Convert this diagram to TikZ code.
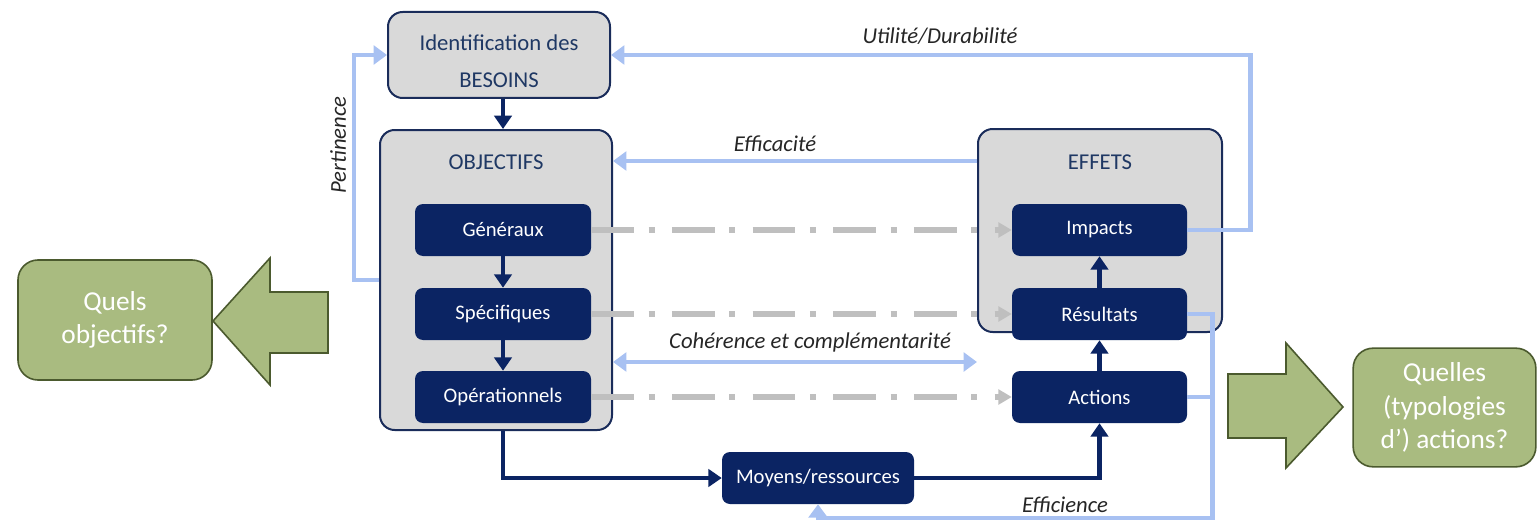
\documentclass[tikz,border=0pt]{standalone}
\usepackage{fontspec}
\setmainfont{Carlito}
\usetikzlibrary{arrows.meta,calc}
\definecolor{navy}{HTML}{0B2463}
\definecolor{navyb}{HTML}{1A2C5A}
\definecolor{boxgray}{HTML}{D9D9D9}
\definecolor{ltblue}{HTML}{A8C1F2}
\definecolor{dashgray}{HTML}{BFBFBF}
\definecolor{olive}{HTML}{A9BB80}
\definecolor{oliveb}{HTML}{4B5A2E}
\definecolor{titletxt}{HTML}{1F3864}
\definecolor{lbltxt}{HTML}{262626}
\begin{document}
\begin{tikzpicture}[x=0.75pt,y=-0.75pt,
  graybox/.style={draw=navyb, line width=1.5pt, fill=boxgray, rounded corners=11pt, inner sep=0pt},
  innerbox/.style={fill=navy, rounded corners=6pt, minimum width=132pt, minimum height=39pt, text=white, font=\fontsize{15.5}{18}\selectfont, inner sep=0pt},
  titletext/.style={text=titletxt, font=\fontsize{17}{20}\selectfont},
  lbl/.style={text=lbltxt, font=\fontsize{17}{20}\selectfont\itshape},
  navyarrow/.style={draw=navy, line width=3.6pt, -{Triangle[length=10pt,width=13pt]}},
  blueline/.style={draw=ltblue, line width=3.4pt},
  bluearrow/.style={blueline, -{Triangle[length=10pt,width=14pt]}},
  bluedouble/.style={blueline, {Triangle[length=10pt,width=14pt]}-{Triangle[length=10pt,width=14pt]}},
  grayarrow/.style={draw=dashgray, line width=4.5pt, dash pattern=on 32pt off 11pt on 4.5pt off 13pt, -{Triangle[length=10pt,width=11pt]}},
  greenbox/.style={draw=oliveb, line width=1.2pt, fill=olive, rounded corners=15pt, text=white, font=\fontsize{20.5}{25}\selectfont, align=center, inner sep=0pt},
  greenarrow/.style={draw=oliveb, fill=olive, line width=1.2pt, line join=miter}
]
\useasboundingbox (0,0) rectangle (1539,528);

% gray container boxes
\node[graybox, minimum width=166.5pt, minimum height=64.5pt] (bes) at (499,55) {};
\node[titletext] (bes1) at (499,43) {Identification des};
\node[titletext] (bes2) at (499,80) {BESOINS};

\node[graybox, minimum width=174pt, minimum height=225pt] (obj) at (496,280) {};
\node[titletext] (objt) at (496,162) {OBJECTIFS};
\node[innerbox] (gen) at (503,230) {Généraux};
\node[innerbox] (spe) at (503,314) {Spécifiques};
\node[innerbox] (ope) at (503,397) {Opérationnels};

\node[graybox, minimum width=183pt, minimum height=152.25pt] (eff) at (1100,230.5) {};
\node[titletext] (efft) at (1100,162) {EFFETS};
\node[innerbox, minimum width=131.25pt] (imp) at (1099.5,230) {Impacts};
\node[innerbox, minimum width=131.25pt] (res) at (1099.5,314) {Résultats};
\node[innerbox, minimum width=131.25pt] (act) at (1099.5,397) {Actions};

\node[innerbox, minimum width=144pt] (moy) at (818,478) {Moyens/ressources};

% green boxes and arrows
\node[greenbox, minimum width=145.5pt, minimum height=90pt] (q1) at (115,320) {Quels\\objectifs?};
\node[greenbox, minimum width=137pt, minimum height=89pt] (q2) at (1444.5,407.5) {Quelles\\(typologies\\d’) actions?};
\draw[greenarrow] (213,321) -- (270,258) -- (270,292) -- (328,292) -- (328,353) -- (270,353) -- (270,385) -- cycle;
\draw[greenarrow] (1343,407) -- (1286,343) -- (1286,374) -- (1228,374) -- (1228,438) -- (1286,438) -- (1286,468) -- cycle;

% navy connectors
\draw[navyarrow] (gen.north |- bes.south) -- (gen.north |- obj.north);
\draw[navyarrow] (gen.south) -- (spe.north);
\draw[navyarrow] (spe.south) -- (ope.north);
\draw[navyarrow] (ope.south |- obj.south) |- (moy.west);
\draw[navyarrow] (moy.east) -| (act.south);
\draw[navyarrow] (act.north) -- (res.south);
\draw[navyarrow] (res.north) -- (imp.south);

% gray dash-dot connectors
\draw[grayarrow] (gen.east) -- (imp.west);
\draw[grayarrow] (spe.east) -- (res.west);
\draw[grayarrow] (ope.east) -- (act.west);

% light blue feedback connectors
\draw[bluearrow] (obj.west) -- ++(-25,0) |- (bes.west);
\draw[bluearrow] (imp.east) -- ++(63,0) |- (bes.east);
\coordinate (effa) at ($(eff.north west)+(0,33)$);
\draw[bluearrow] (effa) -- (effa -| obj.east);
\coordinate (coh) at ($(obj.south east)+(0,-69)$);
\draw[bluedouble] (coh) -- (coh -| eff.west);
\draw[bluearrow] (res.east) -- ++(25,0) -- ++(0,204) -| (moy.south);
\draw[blueline] (act.east) -- ++(25,0);

% labels
\node[lbl] (lu) at (940,36) {Utilité/Durabilité};
\node[lbl] (le) at (775,144) {Efficacité};
\node[lbl, rotate=90] (lp) at (338,145) {Pertinence};
\node[lbl] (lc) at (810,342) {Cohérence et complémentarité};
\node[lbl] (lf) at (1065,505) {Efficience};
\end{tikzpicture}
\end{document}
